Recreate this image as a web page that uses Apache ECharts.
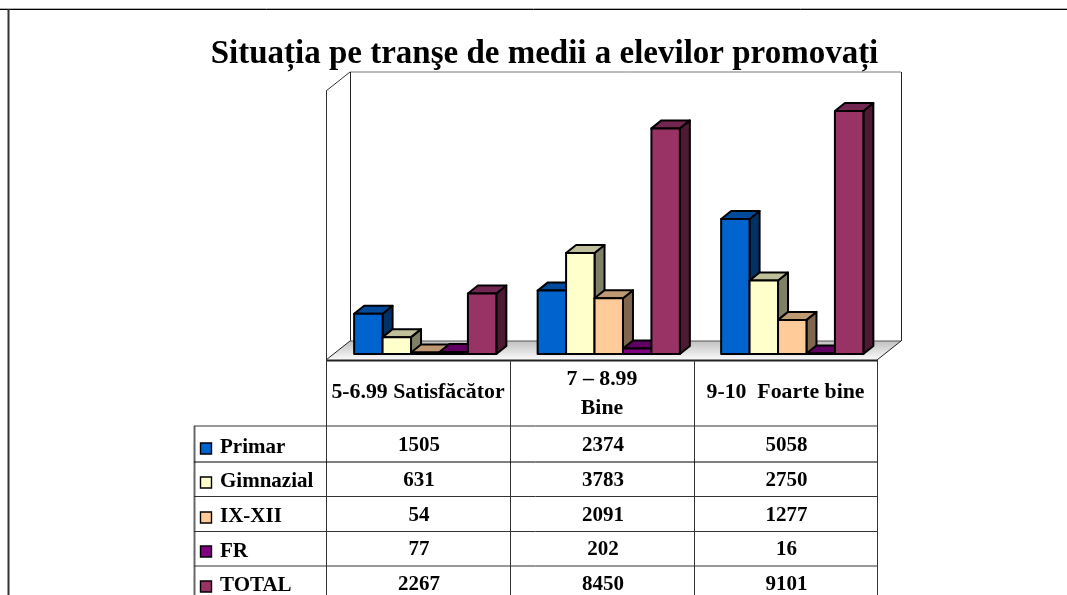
<!DOCTYPE html>
<html>
<head>
<meta charset="utf-8">
<style>html,body{margin:0;padding:0;background:#fff}#c{width:1067px;height:595px}</style>
<script src="https://cdn.jsdelivr.net/npm/echarts@6/dist/echarts.min.js"></script>
</head>
<body>
<div id="c"></div>
<script>
var titleText = 'Situația pe tranşe de medii a elevilor promovați';
var categories = ['5-6.99 Satisfăcător', '7 – 8.99\nBine', '9-10  Foarte bine'];
var seriesNames = ['Primar', 'Gimnazial', 'IX-XII', 'FR', 'TOTAL'];
var primar = [1505, 2374, 5058];
var gimnazial = [631, 3783, 2750];
var ixXii = [54, 2091, 1277];
var fr = [77, 202, 16];
var total = [2267, 8450, 9101];
var seriesValues = [primar, gimnazial, ixXii, fr, total];
var frontColors = ['#0063CE', '#FFFFCC', '#FFCC99', '#800080', '#993366'];
var topColors = ['#004A9B', '#BFBF99', '#BF9973', '#600060', '#732650'];
var sideColors = ['#003267', '#808066', '#80664D', '#400040', '#4D1A33'];

var FONT = 'bold 21px "Liberation Serif"';
var HEAD_FONT = 'bold 21.8px "Liberation Serif"';
var depthX = 10, depthY = -8, barShare = 0.775;

function renderer(si) {
  return function (params, api) {
    var band = api.size([1, 0])[0];
    var w = band * barShare / seriesNames.length;
    var c = api.coord([api.value(0), api.value(1)]);
    var b = api.coord([api.value(0), 0]);
    var x0 = c[0] - band * barShare / 2 + si * w, x1 = x0 + w;
    var yT = c[1], yB = b[1];
    var st = { stroke: '#000', lineWidth: 2, lineJoin: 'round' };
    function poly(points, fill) {
      return { type: 'polygon', shape: { points: points }, style: Object.assign({ fill: fill }, st) };
    }
    return { type: 'group', children: [
      poly([[x1, yT], [x1 + depthX, yT + depthY], [x1 + depthX, yB + depthY], [x1, yB]], sideColors[si]),
      poly([[x0, yT], [x0 + depthX, yT + depthY], [x1 + depthX, yT + depthY], [x1, yT]], topColors[si]),
      poly([[x0, yT], [x1, yT], [x1, yB], [x0, yB]], frontColors[si])
    ] };
  };
}

// ---- frame, walls, floor and the table under the plot
var g = [];
function line(x1, y1, x2, y2, color, lw) {
  g.push({ type: 'line', z: 1, shape: { x1: x1, y1: y1, x2: x2, y2: y2 }, style: { stroke: color, lineWidth: lw } });
}
function text(s, x, y, align, font) {
  g.push({ type: 'text', z: 5, style: { text: s, x: x, y: y, font: font || FONT, fill: '#000', textAlign: align || 'center', textVerticalAlign: 'middle', lineHeight: 29 } });
}
line(0, 8.5, 1067, 8.5, '#b0b0b0', 1);
line(0, 9.5, 1067, 9.5, '#000', 1);
line(8.5, 9, 8.5, 595, '#333', 2);

g.push({ type: 'polygon', z: 0, shape: { points: [[326, 360], [350, 341], [901, 341], [877, 360]] },
  style: { fill: { type: 'linear', x: 0, y: 0, x2: 0, y2: 1, colorStops: [{ offset: 0, color: '#c0c0c0' }, { offset: 1, color: '#fbfbfb' }] }, stroke: null } });
line(350, 72, 901, 72, '#777', 1);
line(350.5, 72, 350.5, 341, '#222', 1);
line(901.5, 72, 901.5, 341, '#222', 1);
line(326, 91, 350, 72, '#333', 1);
line(326.5, 91, 326.5, 360, '#333', 1);
line(350, 341, 901, 341, '#555', 1);
line(326, 360, 350, 341, '#222', 1);
line(877, 360, 901, 341, '#222', 1);
line(326, 360.5, 877, 360.5, '#222', 2);

var colX = [326.5, 510.5, 694.5, 877.5];
var rowY = [426, 462, 496.5, 531.5, 566];
var headY = [392, 394, 392];
var rowText = [446, 480.5, 515.5, 549.5, 584.5];
var legText = [448, 482, 516.5, 552, 585.5];
var legBox = [443, 477, 512, 546, 581];
colX.forEach(function (x) { line(x, 360, x, 595, '#333', 1); });
line(194.5, 426, 194.5, 595, '#666', 2);
rowY.forEach(function (y, i) { line(194, y, 877, y, i === 1 ? '#000' : '#333', 1); });

categories.forEach(function (cat, i) {
  text(cat, (colX[i] + colX[i + 1]) / 2 - 0.5, headY[i], 'center', HEAD_FONT);
});
seriesNames.forEach(function (name, r) {
  g.push({ type: 'rect', z: 5, shape: { x: 200.5, y: legBox[r], width: 11, height: 11 }, style: { fill: frontColors[r], stroke: '#000', lineWidth: 1.4 } });
  text(name, 220, legText[r], 'left');
  seriesValues[r].forEach(function (v, i) {
    text(String(v), (colX[i] + colX[i + 1]) / 2 + 0.5, rowText[r]);
  });
});

var chart = echarts.init(document.getElementById('c'), null, { renderer: 'canvas' });
chart.setOption({
  animation: false,
  backgroundColor: '#fff',
  title: { text: titleText, left: 539.5, top: 33, textAlign: 'center',
    textStyle: { fontFamily: 'Liberation Serif', fontWeight: 'bold', fontSize: 33, color: '#000' } },
  grid: { left: 333.5, width: 550.5, top: 87, height: 267, containLabel: false },
  xAxis: { type: 'category', data: categories, show: false },
  yAxis: { type: 'value', min: 0, max: 10000, show: false },
  graphic: { elements: g },
  series: seriesNames.map(function (name, si) {
    return {
      type: 'custom', name: name, z: 3, clip: false,
      renderItem: renderer(si),
      encode: { x: 0, y: 1 },
      data: seriesValues[si].map(function (v, i) { return [i, v]; })
    };
  })
});
</script>
</body>
</html>
